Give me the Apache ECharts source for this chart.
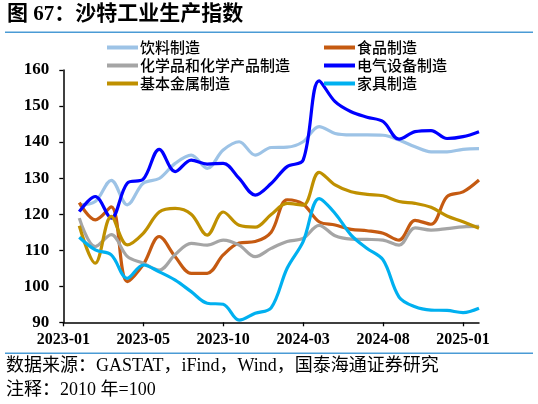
<!DOCTYPE html>
<html>
<head>
<meta charset="utf-8">
<script src="https://cdn.jsdelivr.net/npm/echarts@6/dist/echarts.min.js"></script>
<style>
html,body{margin:0;padding:0;background:#fff;}
#chart{width:538px;height:404px;}
</style>
</head>
<body>
<div id="chart"></div>
<script>
// Months of the data points (month index 1..26 on the x scale; index 0 is the axis origin)
const months = ['2023-01','2023-02','2023-03','2023-04','2023-05','2023-06','2023-07','2023-08','2023-09','2023-10','2023-11','2023-12',
  '2024-01','2024-02','2024-03','2024-04','2024-05','2024-06','2024-07','2024-08','2024-09','2024-10','2024-11','2024-12','2025-01','2025-02'];
// Tick labels shown every 5 months from the axis origin
const xTickLabels = ['2023-01','2023-05','2023-10','2024-03','2024-08','2025-01'];
const xTickValues = [0, 5, 10, 15, 20, 25];

const seriesNames = ['饮料制造','食品制造','化学品和化学产品制造','电气设备制造','基本金属制造','家具制造'];

const beverage = [122.6,123.5,129.4,122.6,128.6,129.9,134.1,136.4,132.7,137.8,140.1,136.4,138.5,138.6,140.1,144.3,142.4,142.0,142.0,141.9,140.6,138.7,137.3,137.3,138.0,138.2];
const food = [123.2,118.4,122.0,101.3,106.0,113.8,108.2,103.6,103.6,108.7,112.0,112.4,115.0,124.0,122.8,117.9,117.0,115.8,115.4,114.7,112.8,118.3,117.2,124.9,126.2,129.5];
const chemicals = [118.9,111.0,114.3,108.3,106.4,104.5,108.8,111.9,111.4,112.8,111.4,108.2,110.5,112.4,113.3,116.9,114.0,113.1,113.0,112.8,111.4,116.2,115.6,116.0,116.5,116.6];
const electrical = [120.7,124.9,118.9,128.6,129.7,138.0,131.8,135.0,133.9,134.1,129.9,125.3,128.5,133.2,135.0,157.0,151.2,148.4,146.9,145.7,140.8,142.9,143.2,141.0,141.5,142.9];
const basicMetals = [116.8,106.4,119.4,111.5,114.7,120.6,121.6,120.0,114.2,120.6,116.9,116.4,119.9,123.0,122.5,131.6,128.1,126.2,125.5,125.1,123.5,123.0,121.9,119.5,117.9,116.1];
const furniture = [113.6,110.1,108.7,102.2,105.9,104.0,101.7,98.5,95.3,95.0,90.6,92.5,94.0,105.0,112.4,124.3,120.2,114.2,110.5,107.3,97.0,94.3,93.4,93.3,92.7,93.9];

const seriesValues = [beverage, food, chemicals, electrical, basicMetals, furniture];
const colors = ['#9DC3E6','#C55A11','#A5A5A5','#0000FF','#BF9000','#00B0F0'];

const titleText = '图 67：沙特工业生产指数';
const sourceText = '数据来源：GASTAT，iFind，Wind，国泰海通证券研究';
const noteText = '注释：2010 年=100';

const chart = echarts.init(document.getElementById('chart'), null, {renderer:'canvas'});
const cjk = "'Liberation Serif','Noto Sans CJK SC'";
const legendIcon = 'path://M0 0H31V4H0Z';

const legendText = {fontSize: 15, lineHeight: 14, color: '#000', fontFamily: "'Noto Sans CJK SC'", fontWeight: 500, padding: [0,0,0,-3]};

const option = {
  animation: false,
  backgroundColor: '#fff',
  color: colors,
  grid: {left: 63.3, right: 59, top: 70, bottom: 81.7, containLabel: false},
  legend: [
    {
      orient: 'vertical', left: 102, top: 35, itemGap: 3, itemWidth: 31, itemHeight: 14,
      icon: legendIcon,
      data: [seriesNames[0], seriesNames[2], seriesNames[4]],
      textStyle: legendText
    },
    {
      orient: 'vertical', left: 319, top: 35, itemGap: 3, itemWidth: 31, itemHeight: 14,
      icon: legendIcon,
      data: [seriesNames[1], seriesNames[3], seriesNames[5]],
      textStyle: legendText
    }
  ],
  xAxis: {
    type: 'value', min: 0, max: 26,
    splitLine: {show: false},
    axisLine: {show: true, onZero: false, lineStyle: {color: '#000', width: 1.5}},
    axisTick: {show: true, inside: false, length: 4, customValues: xTickValues, lineStyle: {color: '#000', width: 1.3}},
    axisLabel: {
      customValues: xTickValues, margin: 10,
      formatter: v => xTickLabels[Math.round(v / 5)] || '',
      fontFamily: "'Liberation Serif'", fontWeight: 'bold', fontSize: 16, color: '#000'
    }
  },
  yAxis: {
    type: 'value', min: 90, max: 160, interval: 10,
    splitLine: {show: false},
    axisLine: {show: true, lineStyle: {color: '#000', width: 1.5}},
    axisTick: {show: true, inside: false, length: 4, lineStyle: {color: '#000', width: 1.3}},
    axisLabel: {margin: 14, fontFamily: "'Liberation Serif'", fontWeight: 'bold', fontSize: 17, color: '#000'}
  },
  series: seriesNames.map((name, k) => ({
    name: name,
    type: 'line',
    smooth: 0.35,
    symbol: 'none',
    clip: false,
    data: seriesValues[k].map((v, i) => [i + 1, v]),
    lineStyle: {width: 3.2, color: colors[k]},
    itemStyle: {color: colors[k]}
  })),
  graphic: [
    {type: 'text', left: 7, top: 4, style: {text: titleText, font: "bold 21px " + cjk, fill: '#000'}},
    {type: 'line', shape: {x1: 5, y1: 32.3, x2: 533, y2: 32.3}, style: {stroke: '#4A9BD5', lineWidth: 1.6}},
    {type: 'line', shape: {x1: 5, y1: 353.3, x2: 533, y2: 353.3}, style: {stroke: '#4A9BD5', lineWidth: 1.6}},
    {type: 'text', left: 6, top: 357, style: {text: sourceText, font: "18px " + cjk, fill: '#000'}},
    {type: 'text', left: 6, top: 381, style: {text: noteText, font: "18px " + cjk, fill: '#000'}}
  ]
};
chart.setOption(option);
</script>
</body>
</html>
